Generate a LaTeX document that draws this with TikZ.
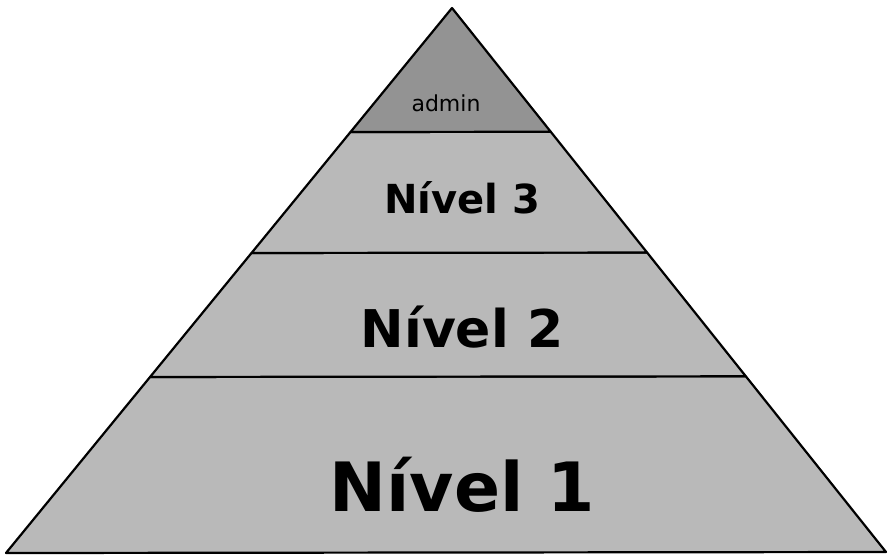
\documentclass[tikz,border=0pt]{standalone}
\usepackage{fontspec}
\setmainfont{DejaVu Sans}
\usetikzlibrary{calc}
\tikzset{
  layer/.style={fill=gray!55, draw=black, line width=2.2pt, line join=round},
  toplayer/.style={fill=gray!85, draw=black, line width=2.2pt, line join=round},
  lvl/.style={anchor=base, inner sep=0pt, font=\bfseries}
}
\begin{document}
\begin{tikzpicture}[x=1pt,y=-1pt]
\useasboundingbox (0,0) rectangle (889,558);
\coordinate (apex) at (452,8);
\coordinate (bl) at (6,553);
\coordinate (br) at (886,552);
\coordinate (l1) at ($(apex)!0.2275!(bl)$);
\coordinate (r1) at ($(apex)!0.2275!(br)$);
\coordinate (l2) at ($(apex)!0.4495!(bl)$);
\coordinate (r2) at ($(apex)!0.4495!(br)$);
\coordinate (l3) at ($(apex)!0.677!(bl)$);
\coordinate (r3) at ($(apex)!0.677!(br)$);
\draw[layer] (l3) -- (r3) -- (br) -- (bl) -- cycle;
\draw[layer] (l2) -- (r2) -- (r3) -- (l3) -- cycle;
\draw[layer] (l1) -- (r1) -- (r2) -- (l2) -- cycle;
\draw[toplayer] (apex) -- (r1) -- (l1) -- cycle;
\node[anchor=base, inner sep=0pt, font=\fontsize{22}{22}\selectfont] (admin) at (446,111) {admin};
\node[lvl, font=\fontsize{40}{40}\selectfont\bfseries] (n3) at (462,213) {Nível 3};
\node[lvl, font=\fontsize{52}{52}\selectfont\bfseries] (n2) at (462,347) {Nível 2};
\node[lvl, font=\fontsize{68}{68}\selectfont\bfseries] (n1) at (462,511) {Nível 1};
\end{tikzpicture}
\end{document}
